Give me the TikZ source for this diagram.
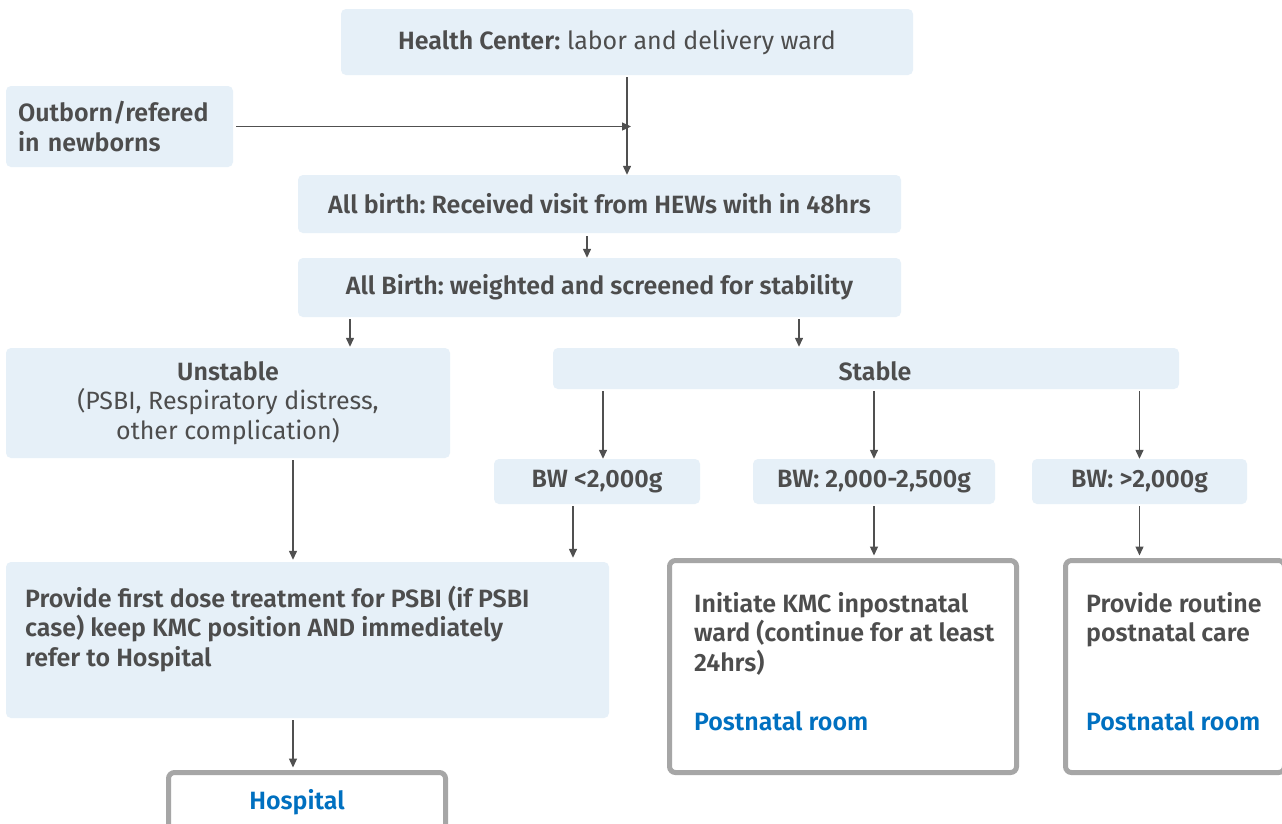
\documentclass[tikz,border=0pt]{standalone}
\usepackage{fontspec}
\setmainfont{Fira Sans}[BoldFont={Fira Sans SemiBold}]
\usetikzlibrary{arrows.meta,calc}
\definecolor{boxfill}{HTML}{E6F0F8}
\definecolor{txtc}{HTML}{4D4D4D}
\definecolor{linkblue}{HTML}{0070C0}
\definecolor{framec}{HTML}{A6A6A6}
\definecolor{arrowc}{HTML}{505050}
\frenchspacing
\begin{document}
\begin{tikzpicture}[x=1pt,y=-1pt,
  font=\fontsize{25}{29.5}\selectfont, text=txtc,
  bx/.style={fill=boxfill, rounded corners=5pt, inner sep=0pt, draw=none},
  fr/.style={fill=white, draw=framec, line width=5pt, rounded corners=6pt, inner sep=0pt},
  lbl/.style={inner sep=0pt, anchor=base west, align=left},
  arr/.style={draw=arrowc, line width=1.3pt, -{Triangle[length=9pt,width=8pt]}},
]
\useasboundingbox (0,0) rectangle (1282,823);
\clip (0,0) rectangle (1282,823);
\fill[white] (0,0) rectangle (1282,823);

% boxes
\node[bx, minimum width=572pt, minimum height=66pt] (hc) at (627,42) {\textbf{Health Center:} labor and delivery ward\hspace*{20pt}};
\node[bx, minimum width=227pt, minimum height=81pt, text width=203pt, align=left] (out) at (119.5,126.5) {\textbf{Outborn/refered}\\\textbf{in newborns}};
\node[bx, minimum width=603pt, minimum height=58pt] (ab1) at (599.5,204) {\textbf{All birth: Received visit from HEWs with in 48hrs}};
\node[bx, minimum width=603pt, minimum height=59pt] (ab2) at (599.5,287.5) {\textbf{All Birth: weighted and screened for stability}};
\node[bx, minimum width=444pt, minimum height=110pt, align=center] (un) at (228,403) {\textbf{Unstable}\\(PSBI, Respiratory distress,\\other complication)};
\node[bx, minimum width=626pt, minimum height=41pt, text height=24pt, text depth=0pt] (st) at (866,368.5) {\hspace*{18pt}\textbf{Stable}};
\node[bx, minimum width=206pt, minimum height=45pt] (bw1) at (597,481.5) {\textbf{BW <2,000g}};
\node[bx, minimum width=242pt, minimum height=45pt] (bw2) at (874,481.5) {\textbf{BW: 2,000-2,500g}};
\node[bx, minimum width=215pt, minimum height=45pt] (bw3) at (1139.5,481.5) {\textbf{BW: >2,000g}};
\node[bx, minimum width=603pt, minimum height=156pt] (tr) at (307.5,640) {};
\node[lbl] (trt) at (25,666) {\textbf{Provide first dose treatment for PSBI (if PSBI}\\\textbf{case) keep KMC position AND immediately}\\\textbf{refer to Hospital}};
\node[fr, minimum width=277pt, minimum height=60pt, text=linkblue] (hosp) at (307,802.5) {\textbf{Hospital}\hspace*{20pt}};
\node[fr, minimum width=347pt, minimum height=212pt] (kmc) at (843,666.5) {};
\node[lbl] (kmct) at (694,730) {\textbf{Initiate KMC inpostnatal}\\\textbf{ward (continue for at least}\\\textbf{24hrs)}\\[29.5pt]\textcolor{linkblue}{\textbf{Postnatal room}}};
\node[fr, minimum width=219pt, minimum height=212pt] (rt) at (1175,666.5) {};
\node[lbl] (rtt) at (1086,730) {\textbf{Provide routine}\\\textbf{postnatal care}\\[59pt]\textcolor{linkblue}{\textbf{Postnatal room}}};

% x positions
\coordinate (xa) at (587,0);
\coordinate (xb) at (350,0);
\coordinate (xc) at (799,0);
\coordinate (xd) at (603,0);
\coordinate (xe) at (293,0);
\coordinate (xf) at (573,0);

% connectors
\draw[arr, shorten <=2pt] (hc.south) -- (hc.south |- ab1.north);
\draw[arr, shorten <=3pt] (out.east) -- ($(hc.south |- out.east)+(4,0)$);
\draw[arr, shorten <=3pt] (ab1.south -| xa) -- (ab2.north -| xa);
\draw[arr, shorten <=2pt, shorten >=1pt] (ab2.south -| xb) -- (un.north -| xb);
\draw[arr, shorten <=2pt, shorten >=1pt] (ab2.south -| xc) -- (st.north -| xc);
\draw[arr, shorten <=2pt] (st.south -| xd) -- (bw1.north -| xd);
\draw[arr, shorten <=2pt] (st.south -| bw2.north) -- (bw2.north);
\draw[arr, shorten <=2pt] (st.south -| bw3.north) -- (bw3.north);
\draw[arr, shorten <=2pt, shorten >=2pt] (un.south -| xe) -- (tr.north -| xe);
\draw[arr, shorten <=2pt, shorten >=4pt] (bw1.south -| xf) -- (tr.north -| xf);
\draw[arr, shorten <=2pt, shorten >=2.5pt] (tr.south -| xe) -- (hosp.north -| xe);
\draw[arr, shorten <=2pt, shorten >=2.5pt] (bw2.south) -- (bw2.south |- kmc.north);
\draw[arr, shorten <=2pt, shorten >=2.5pt] (bw3.south) -- (bw3.south |- rt.north);
\end{tikzpicture}
\end{document}
